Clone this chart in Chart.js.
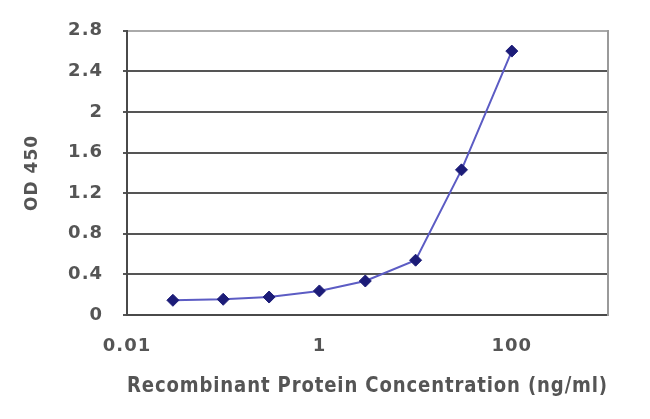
<!DOCTYPE html>
<html>
<head>
<meta charset="utf-8">
<script src="https://cdn.jsdelivr.net/npm/chart.js@4"></script>
<style>
  html, body { margin: 0; padding: 0; background: #fff; }
  #wrap { width: 650px; height: 419px; position: relative; }
</style>
</head>
<body>
<div id="wrap"><canvas id="myChart"></canvas></div>
<script>
// concentration (ng/ml) and OD 450 readings
var concentrations = [0.03, 0.1, 0.3, 1, 3, 10, 30, 100];
var odValues = [0.145, 0.155, 0.177, 0.237, 0.335, 0.54, 1.43, 2.6];
var xTickLabels = [0.01, 1, 100];
var yTickLabels = [0, 0.4, 0.8, 1.2, 1.6, 2, 2.4, 2.8];

var tickFont = { family: 'DejaVu Sans', size: 18, weight: 'bold' };
var textColor = '#555555';

// the picture's lettering is wide, so space the glyphs out a little
var wideText = {
    id: 'wideText',
    beforeUpdate: function (chart) { chart.ctx.letterSpacing = '1px'; },
    beforeDraw: function (chart) { chart.ctx.letterSpacing = '1px'; }
};

var ctx = document.getElementById("myChart").getContext('2d');
var myChart = new Chart(ctx, {
    type: 'line',
    plugins: [wideText],
    data: {
        datasets: [{
            label: 'OD 450',
            data: concentrations.map(function (c, i) { return { x: c, y: odValues[i] }; }),
            borderColor: '#5c5cc4',
            borderWidth: 2,
            pointStyle: 'rectRot',
            pointRadius: 6,
            pointBackgroundColor: '#1c1c78',
            pointBorderColor: '#1c1c78',
            pointBorderWidth: 1,
            tension: 0
        }]
    },
    options: {
        responsive: true, maintainAspectRatio: false,
        animation: false,
        layout: { padding: { top: 30, right: 40, left: 0, bottom: 0 } },
        plugins: { legend: { display: false }, tooltip: { enabled: false } },
        scales: {
            x: {
                type: 'logarithmic',
                min: 0.01,
                max: 1000,
                afterBuildTicks: function (scale) {
                    scale.ticks = xTickLabels.map(function (v) { return { value: v }; });
                },
                afterFit: function (scale) { scale.height = 104; },
                ticks: {
                    font: tickFont, color: textColor, padding: 13,
                    maxRotation: 0, autoSkip: false,
                    callback: function (v) { return String(v); }
                },
                grid: { display: false },
                border: { color: '#4a4a4a', width: 2 },
                title: {
                    display: true,
                    text: 'Recombinant Protein Concentration (ng/ml)',
                    font: { family: 'DejaVu Sans', size: 21, weight: 'bold' }, color: textColor,
                    padding: { top: 0, bottom: 20 }
                }
            },
            y: {
                min: 0,
                max: 2.8,
                afterBuildTicks: function (scale) {
                    scale.ticks = yTickLabels.map(function (v) { return { value: v }; });
                },
                afterFit: function (scale) { scale.width = 127; },
                ticks: {
                    font: tickFont, color: textColor, padding: 20,
                    callback: function (v) { return String(v); }
                },
                grid: {
                    color: function (c) { return c.tick && c.tick.value === 2.8 ? '#aaaaaa' : '#555555'; },
                    lineWidth: 2,
                    tickLength: 4,
                    tickColor: '#555555'
                },
                border: { color: '#4a4a4a', width: 2 },
                title: {
                    display: true,
                    text: 'OD 450',
                    font: { family: 'DejaVu Sans', size: 17, weight: 'bold' }, color: textColor,
                    padding: { top: 22, bottom: 0 }
                }
            },
            yRight: {
                position: 'right',
                min: 0, max: 2.8,
                ticks: { display: false },
                grid: { display: false, drawTicks: false },
                border: { color: '#9a9a9a', width: 2 },
                afterFit: function (scale) { scale.width = 2; }
            }
        }
    }
});
</script>
</body>
</html>
